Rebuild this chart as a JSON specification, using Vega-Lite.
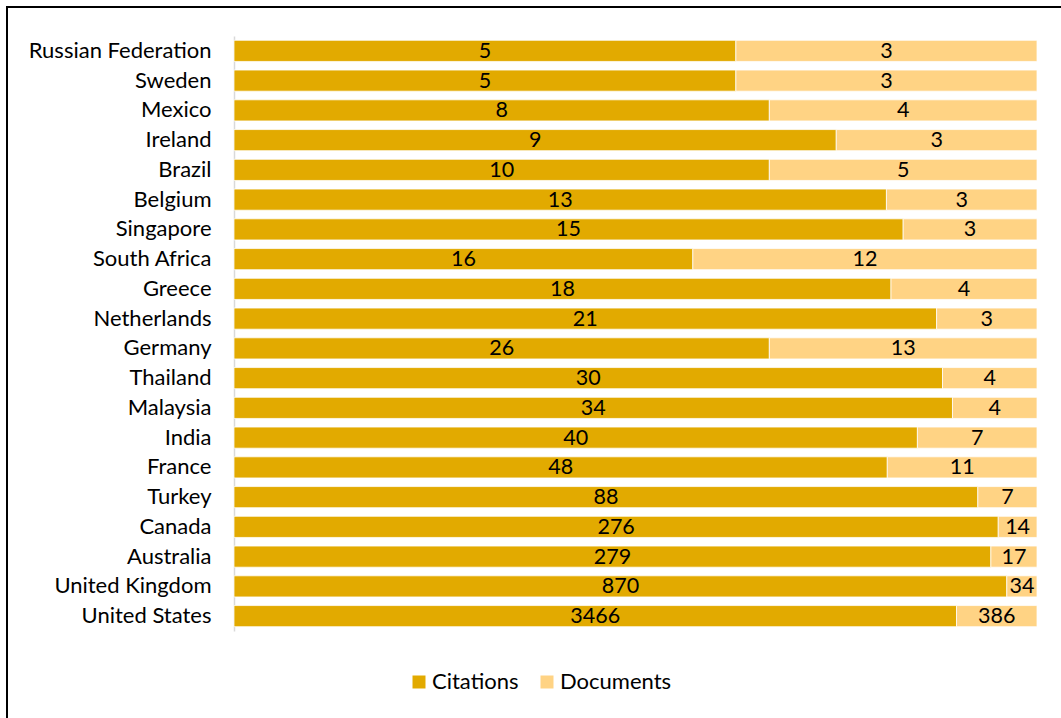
{
  "$schema": "https://vega.github.io/schema/vega-lite/v6.json",
  "autosize": {"type": "none"},
  "padding": {"left": 7, "top": 7, "right": 0, "bottom": 0},
  "width": 1060,
  "height": 720,
  "background": "white",
  "config": {
    "font": "Lato",
    "view": {"stroke": "#000000", "strokeWidth": 2}
  },
  "data": {
    "values": [
      {"country": "Russian Federation", "metric": "Citations", "value": 5, "o": 1},
      {"country": "Russian Federation", "metric": "Documents", "value": 3, "o": 2},
      {"country": "Sweden", "metric": "Citations", "value": 5, "o": 1},
      {"country": "Sweden", "metric": "Documents", "value": 3, "o": 2},
      {"country": "Mexico", "metric": "Citations", "value": 8, "o": 1},
      {"country": "Mexico", "metric": "Documents", "value": 4, "o": 2},
      {"country": "Ireland", "metric": "Citations", "value": 9, "o": 1},
      {"country": "Ireland", "metric": "Documents", "value": 3, "o": 2},
      {"country": "Brazil", "metric": "Citations", "value": 10, "o": 1},
      {"country": "Brazil", "metric": "Documents", "value": 5, "o": 2},
      {"country": "Belgium", "metric": "Citations", "value": 13, "o": 1},
      {"country": "Belgium", "metric": "Documents", "value": 3, "o": 2},
      {"country": "Singapore", "metric": "Citations", "value": 15, "o": 1},
      {"country": "Singapore", "metric": "Documents", "value": 3, "o": 2},
      {"country": "South Africa", "metric": "Citations", "value": 16, "o": 1},
      {"country": "South Africa", "metric": "Documents", "value": 12, "o": 2},
      {"country": "Greece", "metric": "Citations", "value": 18, "o": 1},
      {"country": "Greece", "metric": "Documents", "value": 4, "o": 2},
      {"country": "Netherlands", "metric": "Citations", "value": 21, "o": 1},
      {"country": "Netherlands", "metric": "Documents", "value": 3, "o": 2},
      {"country": "Germany", "metric": "Citations", "value": 26, "o": 1},
      {"country": "Germany", "metric": "Documents", "value": 13, "o": 2},
      {"country": "Thailand", "metric": "Citations", "value": 30, "o": 1},
      {"country": "Thailand", "metric": "Documents", "value": 4, "o": 2},
      {"country": "Malaysia", "metric": "Citations", "value": 34, "o": 1},
      {"country": "Malaysia", "metric": "Documents", "value": 4, "o": 2},
      {"country": "India", "metric": "Citations", "value": 40, "o": 1},
      {"country": "India", "metric": "Documents", "value": 7, "o": 2},
      {"country": "France", "metric": "Citations", "value": 48, "o": 1},
      {"country": "France", "metric": "Documents", "value": 11, "o": 2},
      {"country": "Turkey", "metric": "Citations", "value": 88, "o": 1},
      {"country": "Turkey", "metric": "Documents", "value": 7, "o": 2},
      {"country": "Canada", "metric": "Citations", "value": 276, "o": 1},
      {"country": "Canada", "metric": "Documents", "value": 14, "o": 2},
      {"country": "Australia", "metric": "Citations", "value": 279, "o": 1},
      {"country": "Australia", "metric": "Documents", "value": 17, "o": 2},
      {"country": "United Kingdom", "metric": "Citations", "value": 870, "o": 1},
      {"country": "United Kingdom", "metric": "Documents", "value": 34, "o": 2},
      {"country": "United States", "metric": "Citations", "value": 3466, "o": 1},
      {"country": "United States", "metric": "Documents", "value": 386, "o": 2}
    ]
  },
  "encoding": {
    "y": {
      "field": "country",
      "type": "nominal",
      "sort": null,
      "scale": {"range": [29, 624], "paddingInner": 0.29, "paddingOuter": 0.145},
      "axis": {
        "title": null,
        "offset": -227,
        "ticks": false,
        "domainColor": "#D9D9D9",
        "domainWidth": 1.5,
        "labelFontSize": 22,
        "labelColor": "#000000",
        "labelPadding": 23,
        "labelLimit": 400,
        "labelFont": "Lato"
      }
    },
    "x": {
      "field": "value",
      "type": "quantitative",
      "stack": "normalize",
      "scale": {"domain": [-0.28269, 1.03736], "nice": false, "zero": false},
      "axis": null
    },
    "order": {"field": "o", "type": "quantitative"}
  },
  "layer": [
    {
      "mark": {"type": "bar", "stroke": "#FFFFFF", "strokeWidth": 0.75},
      "encoding": {
        "color": {
          "field": "metric",
          "type": "nominal",
          "scale": {"domain": ["Citations", "Documents"], "range": ["#E2AA00", "#FFD384"]},
          "legend": {
            "title": null,
            "orient": "none",
            "legendX": 401,
            "legendY": 664,
            "direction": "horizontal",
            "symbolType": "square",
            "symbolSize": 169,
            "symbolStrokeWidth": 0,
            "labelFontSize": 22,
            "labelColor": "#000000",
            "labelFont": "Lato",
            "columnPadding": 17,
            "labelOffset": 2
          }
        }
      }
    },
    {
      "mark": {"type": "text", "fontSize": 21.5, "color": "#000000", "baseline": "middle", "align": "center", "dy": 1},
      "encoding": {
        "x": {"field": "value", "type": "quantitative", "stack": "normalize", "bandPosition": 0.5},
        "text": {"field": "value", "type": "quantitative"}
      }
    }
  ]
}
